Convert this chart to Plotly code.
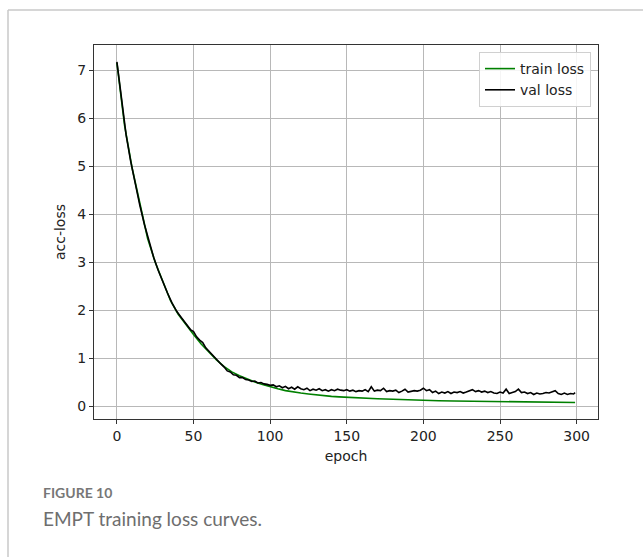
import plotly.graph_objects as go

# ---- data ----
train_epochs = [0, 5, 10, 15, 20, 25, 30, 35, 40, 45, 50, 55, 60, 65, 70, 75, 80, 85, 90, 95,
                100, 105, 110, 115, 120, 125, 130, 135, 140, 145, 150, 160, 170, 180, 190,
                200, 210, 220, 230, 240, 250, 260, 270, 280, 290, 299]
train_loss = [7.15, 5.85, 4.95, 4.2, 3.5, 3.0, 2.6, 2.2, 1.92, 1.7, 1.5, 1.3, 1.13, 0.97, 0.83,
              0.72, 0.64, 0.57, 0.51, 0.46, 0.41, 0.37, 0.33, 0.30, 0.28, 0.26, 0.24, 0.225,
              0.21, 0.20, 0.19, 0.175, 0.16, 0.15, 0.135, 0.125, 0.12, 0.115, 0.11, 0.105,
              0.10, 0.095, 0.092, 0.09, 0.087, 0.083]

val_epochs = [0, 3, 6, 9, 12, 15, 18, 21, 24, 27, 30, 33, 36, 39, 42, 45, 48, 50, 52, 54, 56, 58,
              60, 62, 64, 66, 68, 70, 72, 74, 76, 78, 80, 82, 84, 86, 88, 90, 92, 94, 96, 98,
              100, 102, 104, 106, 108, 110, 112, 114, 116, 118, 120, 122, 124, 126, 128, 130,
              132, 134, 136, 138, 140, 142, 144, 146, 148, 150, 152, 154, 156, 158, 160, 162,
              164, 166, 168, 170, 172, 174, 176, 178, 180, 182, 184, 186, 188, 190, 192, 194,
              196, 198, 200, 202, 204, 206, 208, 210, 212, 214, 216, 218, 220, 222, 224, 226,
              228, 230, 232, 234, 236, 238, 240, 242, 244, 246, 248, 250, 252, 254, 256, 258,
              260, 262, 264, 266, 268, 270, 272, 274, 276, 278, 280, 282, 284, 286, 288, 290,
              292, 294, 296, 298, 299]
val_loss = [7.17, 6.4, 5.65, 5.1, 4.6, 4.18, 3.78, 3.42, 3.1, 2.83, 2.58, 2.36, 2.15, 1.98, 1.85,
            1.72, 1.6, 1.56, 1.45, 1.38, 1.33, 1.22,
            1.15, 1.08, 1.0, 0.95, 0.88, 0.82, 0.74, 0.72, 0.66, 0.65, 0.6, 0.6, 0.56, 0.55,
            0.52, 0.53, 0.49, 0.5, 0.47, 0.46,
            0.44, 0.45, 0.41, 0.43, 0.39, 0.42, 0.37, 0.4, 0.36, 0.41, 0.37, 0.35, 0.38, 0.33,
            0.36, 0.34, 0.37, 0.33, 0.35, 0.32, 0.35, 0.33, 0.36, 0.34, 0.33, 0.35, 0.32, 0.34,
            0.31, 0.33, 0.32, 0.35, 0.31, 0.41, 0.32, 0.34, 0.33, 0.38, 0.31, 0.33, 0.32, 0.34,
            0.29, 0.32, 0.36, 0.3, 0.31, 0.33, 0.32, 0.34, 0.38, 0.33, 0.35, 0.29, 0.32, 0.27,
            0.3, 0.28, 0.31, 0.27, 0.3, 0.29, 0.31, 0.28, 0.3, 0.32, 0.35, 0.31, 0.33, 0.3,
            0.32, 0.29, 0.31, 0.28, 0.27, 0.3, 0.28, 0.36, 0.27, 0.29, 0.31, 0.36, 0.29, 0.3,
            0.27, 0.29, 0.25, 0.28, 0.26, 0.27, 0.29, 0.28, 0.31, 0.33, 0.27, 0.25, 0.28, 0.25,
            0.27, 0.26, 0.29]

x_ticks = [0, 50, 100, 150, 200, 250, 300]
y_ticks = [0, 1, 2, 3, 4, 5, 6, 7]

W, H = 643, 557
L, R, T, B = 94, 598, 45, 419


def px(xp):
    return (xp - L) / (R - L)


def py(yp):
    return (B - yp) / (B - T)


FONT = dict(family="DejaVu Sans", size=14, color="#222222")

fig = go.Figure()
fig.add_trace(go.Scatter(x=train_epochs, y=train_loss, mode="lines", name="train loss",
                         line=dict(color="#008000", width=1.6)))
fig.add_trace(go.Scatter(x=val_epochs, y=val_loss, mode="lines", name="val loss",
                         line=dict(color="#000000", width=1.6)))

axis_common = dict(showgrid=True, gridcolor="#b8b8b8", gridwidth=1, showline=True,
                   linecolor="#333333", linewidth=1.2, mirror=True, ticks="outside",
                   ticklen=4, tickcolor="#333333", zeroline=False, tickfont=FONT)

fig.update_xaxes(range=[-14.95, 313.95], tickvals=x_ticks,
                 title=dict(text="epoch", font=FONT, standoff=8),
                 **axis_common)
fig.update_yaxes(range=[-0.26, 7.52], tickvals=y_ticks,
                 title=dict(text="acc-loss", font=FONT, standoff=8),
                 **axis_common)

shapes = [
    dict(type="line", xref="paper", yref="paper", x0=px(8), x1=px(W + 5), y0=py(10), y1=py(10),
         line=dict(color="#c8c8c8", width=1.5)),
    dict(type="line", xref="paper", yref="paper", x0=px(8), x1=px(8), y0=py(10), y1=py(H + 5),
         line=dict(color="#c8c8c8", width=1.5)),
]

annotations = [
    dict(text="FIGURE 10", xref="paper", yref="paper", x=px(41), y=py(493), xanchor="left",
         yanchor="middle", showarrow=False,
         font=dict(family="Lato", size=14, color="#777777", weight="bold")),
    dict(text="EMPT training loss curves.", xref="paper", yref="paper", x=px(41), y=py(518),
         xanchor="left", yanchor="middle", showarrow=False,
         font=dict(family="Lato", size=19, color="#6e6e6e")),
]

fig.update_layout(
    width=W, height=H,
    margin=dict(l=L, r=W - R, t=T, b=H - B),
    paper_bgcolor="white", plot_bgcolor="white",
    shapes=shapes, annotations=annotations,
    showlegend=True,
    legend=dict(x=px(591), y=py(52), xanchor="right", yanchor="top",
                bgcolor="rgba(255,255,255,0.85)", bordercolor="#d0d0d0", borderwidth=1,
                font=FONT, tracegroupgap=0, itemwidth=30),
)

fig.write_html("out.html", config={"displayModeBar": False},
               post_script="document.body.style.margin='0';")
